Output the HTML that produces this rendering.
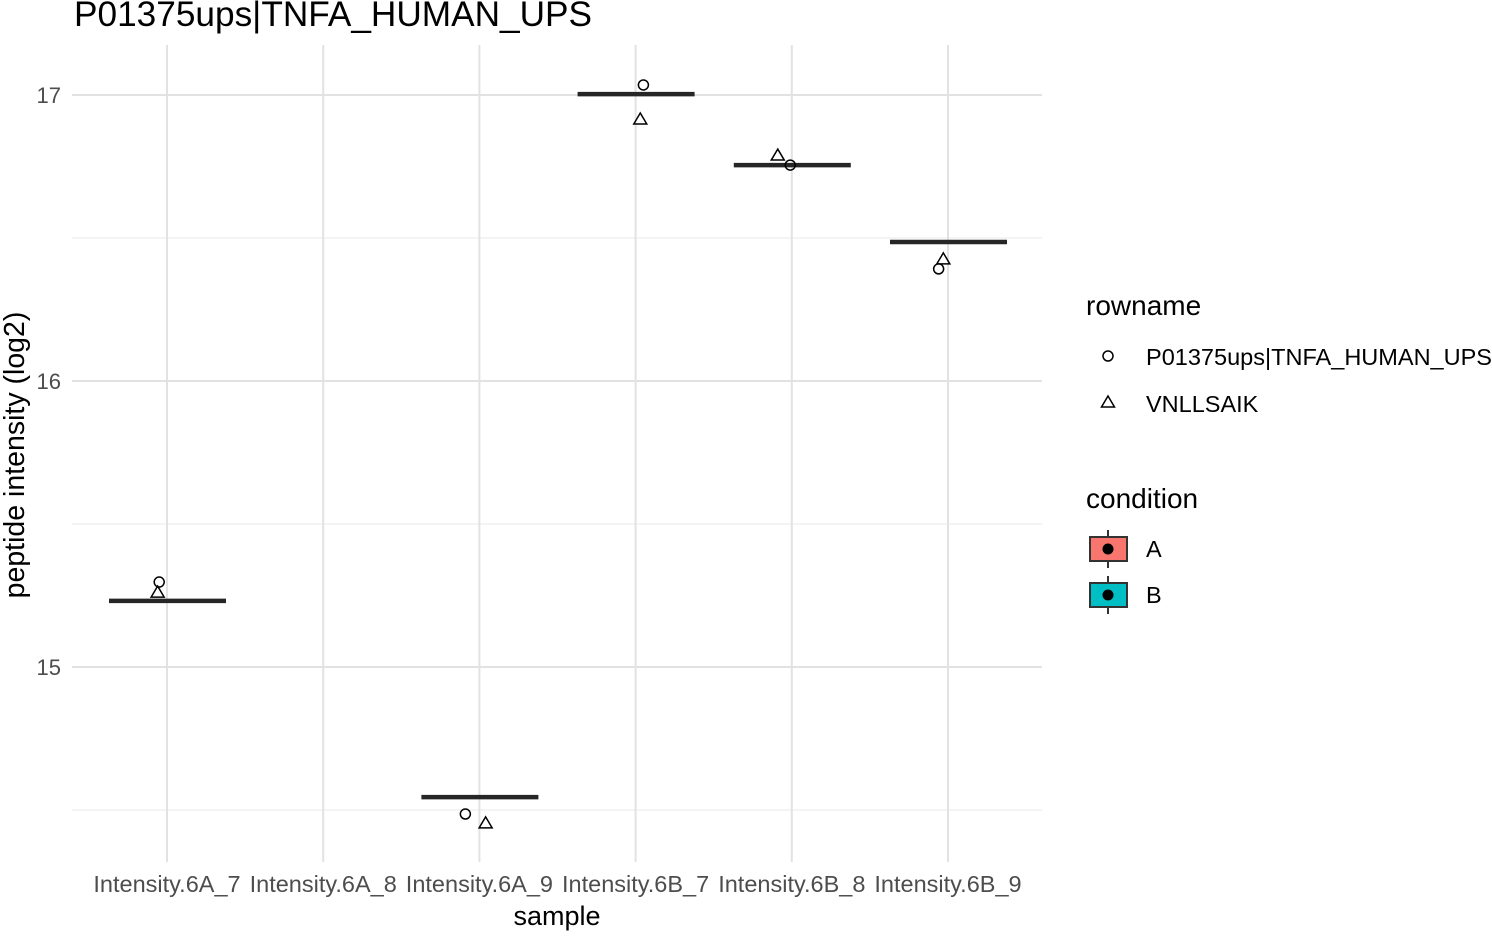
<!DOCTYPE html>
<html><head><meta charset="utf-8"><style>
body{margin:0;background:#fff}
text{font-family:"Liberation Sans",Arial,sans-serif}
</style></head><body>
<svg width="1492" height="932" viewBox="0 0 1492 932" xmlns="http://www.w3.org/2000/svg">
<g id="grid"></g>
<g id="marks"></g>
<g id="axes"></g>
<text x="74" y="26" font-size="35" textLength="518" lengthAdjust="spacingAndGlyphs" fill="#000">P01375ups|TNFA_HUMAN_UPS</text>
<text x="557" y="925" font-size="27" text-anchor="middle" fill="#000">sample</text>
<text transform="translate(24,455) rotate(-90)" font-size="28.5" text-anchor="middle" fill="#000">peptide intensity (log2)</text>
<g>
<text x="1086" y="315" font-size="28">rowname</text>
<circle cx="1108" cy="356" r="5" fill="none" stroke="#000" stroke-width="1.5"/>
<text x="1146" y="365" font-size="23.5" textLength="346" lengthAdjust="spacingAndGlyphs">P01375ups|TNFA_HUMAN_UPS</text>
<polygon points="1108,396 1114.5,407 1101.5,407" fill="none" stroke="#000" stroke-width="1.5"/>
<text x="1146" y="412" font-size="23.5">VNLLSAIK</text>
</g>
<g>
<text x="1086" y="508" font-size="28">condition</text>
<line x1="1108" y1="530" x2="1108" y2="568" stroke="#333" stroke-width="2"/>
<rect x="1090" y="537" width="37" height="24" fill="#F8766D" stroke="#333" stroke-width="2"/>
<circle cx="1108" cy="549" r="5.5" fill="#000"/>
<text x="1146" y="557" font-size="23.5">A</text>
<line x1="1108" y1="576" x2="1108" y2="614" stroke="#333" stroke-width="2"/>
<rect x="1090" y="583" width="37" height="24" fill="#00BFC4" stroke="#333" stroke-width="2"/>
<circle cx="1108" cy="595" r="5.5" fill="#000"/>
<text x="1146" y="603" font-size="23.5">B</text>
</g>
</svg>
<script>
const categories=["Intensity.6A_7","Intensity.6A_8","Intensity.6A_9","Intensity.6B_7","Intensity.6B_8","Intensity.6B_9"];
const medians=[15.231,null,14.545,17.003,16.755,16.486];
const circleVals=[15.297,null,14.486,17.035,16.755,16.392];
const triangleVals=[15.262,null,14.455,16.916,16.79,16.427];
const circleJitter=[-0.05,0,-0.09,0.05,-0.01,-0.06];
const triangleJitter=[-0.06,0,0.04,0.03,-0.09,-0.03];
const yTicks=[15,16,17];
const yMinor=[14.5,15.5,16.5];
const NS="http://www.w3.org/2000/svg";
const y=v=>95+(17-v)*286;
const x=i=>167+i*156.2;
function mk(tag,attrs,parent){const e=document.createElementNS(NS,tag);for(const k in attrs)e.setAttribute(k,attrs[k]);document.getElementById(parent).appendChild(e);return e;}
yMinor.forEach(v=>{const l=mk('line',{x1:72,x2:1042,y1:y(v),y2:y(v),stroke:'#e8e8e8','stroke-width':1},'grid');

});
yTicks.forEach(v=>{const l=mk('line',{x1:72,x2:1042,y1:y(v),y2:y(v),stroke:'#e2e2e2','stroke-width':2},'grid');


const t=mk('text',{x:61,y:y(v)+8,'font-size':22,'text-anchor':'end',fill:'#4d4d4d'},'axes');t.textContent=v;

});
categories.forEach((c,i)=>{const l=mk('line',{x1:x(i),x2:x(i),y1:45,y2:862,stroke:'#e2e2e2','stroke-width':2},'grid');


const t=mk('text',{x:x(i),y:892,'font-size':23.5,'text-anchor':'middle',fill:'#4d4d4d'},'axes');t.textContent=c;


if(medians[i]!==null){const m=mk('line',{x1:x(i)-58,x2:x(i)+59,y1:y(medians[i]),y2:y(medians[i]),stroke:'#262626','stroke-width':4.5},'marks');

}
if(circleVals[i]!==null){const cx=x(i)+circleJitter[i]*156;const cc=mk('circle',{cx:cx,cy:y(circleVals[i]),r:5,fill:'none',stroke:'#000','stroke-width':1.5},'marks');

}
if(triangleVals[i]!==null){const tx=x(i)+triangleJitter[i]*156,ty=y(triangleVals[i]);const p=mk('polygon',{points:`${tx},${ty-6} ${tx+6.5},${ty+5} ${tx-6.5},${ty+5}`,fill:'none',stroke:'#000','stroke-width':1.5},'marks');

}
});
</script>
</body></html>
